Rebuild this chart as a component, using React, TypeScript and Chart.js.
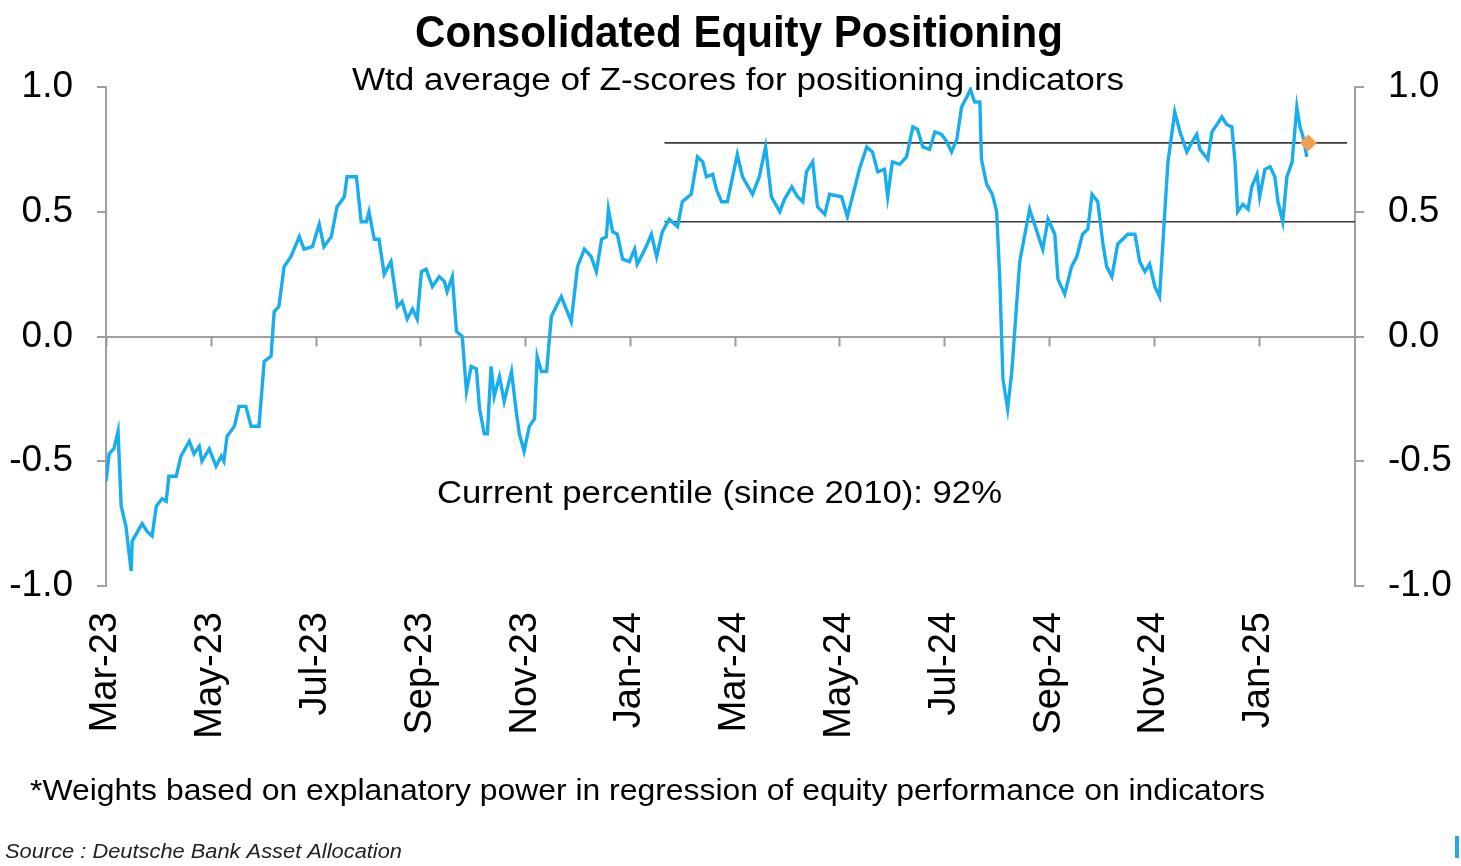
import React, { useEffect, useRef } from "react";
import { Chart, registerables } from "chart.js";

Chart.register(...registerables);

// Months since 1 Mar 2023
const monthOffsets = [
  0.0, 0.06, 0.15, 0.23, 0.29, 0.38, 0.48, 0.5, 0.69, 0.78, 0.88, 0.96, 1.07, 1.15, 1.2, 1.34, 1.43, 1.59, 1.68, 1.78,
  1.83, 1.97, 2.1, 2.2, 2.25, 2.31, 2.45, 2.54, 2.67, 2.77, 2.92, 3.02, 3.15, 3.21, 3.3, 3.4, 3.53, 3.69, 3.78, 3.94,
  4.07, 4.16, 4.3, 4.41, 4.55, 4.6, 4.78, 4.87, 4.97, 5.02, 5.12, 5.21, 5.31, 5.44, 5.56, 5.65, 5.75, 5.85, 5.94, 6.02,
  6.11, 6.23, 6.36, 6.46, 6.51, 6.61, 6.69, 6.8, 6.88, 6.97, 7.07, 7.13, 7.22, 7.28, 7.35, 7.41, 7.51, 7.6, 7.74, 7.83,
  7.89, 7.98, 8.08, 8.18, 8.23, 8.31, 8.41, 8.5, 8.69, 8.88, 9.0, 9.13, 9.26, 9.36, 9.46, 9.55, 9.59, 9.67, 9.76, 9.86,
  9.99, 10.09, 10.14, 10.24, 10.33, 10.41, 10.51, 10.62, 10.75, 10.91, 11.0, 11.17, 11.29, 11.39, 11.46, 11.58, 11.65,
  11.75, 11.86, 12.05, 12.15, 12.34, 12.47, 12.59, 12.7, 12.86, 12.95, 13.09, 13.2, 13.3, 13.37, 13.49, 13.58, 13.72,
  13.81, 14.04, 14.15, 14.38, 14.52, 14.63, 14.73, 14.86, 14.92, 15.01, 15.15, 15.28, 15.4, 15.49, 15.59, 15.72, 15.82,
  15.95, 16.05, 16.14, 16.24, 16.33, 16.43, 16.5, 16.58, 16.68, 16.71, 16.81, 16.92, 17.0, 17.06, 17.12, 17.21, 17.29,
  17.44, 17.63, 17.77, 17.88, 17.98, 18.11, 18.17, 18.3, 18.43, 18.53, 18.64, 18.74, 18.82, 18.93, 19.03, 19.1, 19.2,
  19.31, 19.5, 19.64, 19.73, 19.83, 19.92, 20.02, 20.11, 20.21, 20.27, 20.4, 20.5, 20.63, 20.73, 20.82, 20.88, 21.03,
  21.11, 21.3, 21.39, 21.49, 21.55, 21.6, 21.7, 21.8, 21.87, 21.97, 22.02, 22.12, 22.22, 22.31, 22.37, 22.46, 22.54,
  22.64, 22.73, 22.79, 22.85, 22.92,
];

const zScores = [
  -0.58, -0.47, -0.45, -0.38, -0.68, -0.76, -0.94, -0.82, -0.75, -0.78, -0.8, -0.68, -0.65, -0.66, -0.56, -0.56, -0.48,
  -0.42, -0.47, -0.44, -0.5, -0.45, -0.52, -0.48, -0.5, -0.4, -0.36, -0.28, -0.28, -0.36, -0.36, -0.1, -0.08, 0.1, 0.12,
  0.28, 0.32, 0.4, 0.35, 0.36, 0.45, 0.36, 0.4, 0.52, 0.56, 0.64, 0.64, 0.46, 0.46, 0.5, 0.39, 0.39, 0.25, 0.3, 0.12,
  0.14, 0.07, 0.11, 0.07, 0.26, 0.27, 0.2, 0.24, 0.22, 0.18, 0.24, 0.02, 0.0, -0.22, -0.12, -0.13, -0.29, -0.39, -0.39,
  -0.12, -0.24, -0.16, -0.26, -0.14, -0.3, -0.39, -0.46, -0.36, -0.33, -0.08, -0.14, -0.14, 0.08, 0.16, 0.06, 0.28, 0.35,
  0.32, 0.26, 0.39, 0.4, 0.51, 0.42, 0.41, 0.31, 0.3, 0.35, 0.29, 0.33, 0.37, 0.41, 0.32, 0.42, 0.47, 0.44, 0.54, 0.57,
  0.72, 0.7, 0.64, 0.65, 0.59, 0.54, 0.54, 0.73, 0.64, 0.57, 0.64, 0.76, 0.56, 0.5, 0.55, 0.6, 0.56, 0.54, 0.66, 0.7,
  0.52, 0.49, 0.57, 0.56, 0.48, 0.67, 0.76, 0.74, 0.66, 0.67, 0.56, 0.7, 0.69, 0.72, 0.84, 0.83, 0.76, 0.75, 0.82, 0.81,
  0.78, 0.74, 0.79, 0.92, 0.96, 0.99, 0.94, 0.94, 0.71, 0.61, 0.57, 0.5, 0.23, -0.17, -0.29, -0.14, 0.3, 0.51, 0.42, 0.35,
  0.47, 0.41, 0.23, 0.17, 0.28, 0.32, 0.41, 0.43, 0.57, 0.54, 0.37, 0.28, 0.24, 0.37, 0.41, 0.41, 0.3, 0.26, 0.29, 0.2,
  0.16, 0.5, 0.7, 0.9, 0.82, 0.74, 0.78, 0.81, 0.75, 0.71, 0.82, 0.88, 0.85, 0.84, 0.7, 0.5, 0.53, 0.51, 0.6, 0.65, 0.56,
  0.67, 0.68, 0.64, 0.54, 0.46, 0.64, 0.7, 0.92, 0.84, 0.8, 0.72,
];

const tickMonths = [0, 2, 4, 6, 8, 10, 12, 14, 16, 18, 20, 22];
const tickLabels = ["Mar-23", "May-23", "Jul-23", "Sep-23", "Nov-23", "Jan-24", "Mar-24", "May-24", "Jul-24", "Sep-24", "Nov-24", "Jan-25"];
const yTicks = [-1, -0.5, 0, 0.5, 1];

const bandStart = 10.66;
const upperBandEnd = 23.69;
const lowerBandEnd = 23.84;
const upperBand = 0.776;
const lowerBand = 0.46;
const currentX = 22.95;
const currentY = 0.776;
const xMax = 23.84;

const titleText = "Consolidated Equity Positioning";
const subtitleText = "Wtd average of Z-scores for positioning indicators";
const percentileText = "Current percentile (since 2010): 92%";
const footnoteText = "*Weights based on explanatory power in regression of equity performance on indicators";
const sourceText = "Source : Deutsche Bank Asset Allocation";

const FONT = "'Liberation Sans', Arial, sans-serif";

function fitText(ctx: CanvasRenderingContext2D, text: string, left: number, baseline: number, width: number) {
  const w = ctx.measureText(text).width;
  ctx.save();
  ctx.textAlign = "left";
  ctx.textBaseline = "alphabetic";
  ctx.translate(left, baseline);
  ctx.scale(width / w, 1);
  ctx.fillText(text, 0, 0);
  ctx.restore();
}

const textPlugin = {
  id: "textPlugin",
  beforeDatasetsDraw(chart: any) {
    const { ctx, scales } = chart;
    const x = scales.x;
    const y0 = scales.y.getPixelForValue(0);
    ctx.save();
    ctx.strokeStyle = "#9a9a9a";
    ctx.lineWidth = 2;
    tickMonths.forEach((m) => {
      const px = Math.round(x.getPixelForValue(m)) + 0.5;
      ctx.beginPath();
      ctx.moveTo(px, y0);
      ctx.lineTo(px, y0 + 10);
      ctx.stroke();
    });
    ctx.restore();
  },
  afterDraw(chart: any) {
    const { ctx } = chart;
    ctx.save();
    ctx.fillStyle = "#000";
    ctx.font = `bold 44px ${FONT}`;
    fitText(ctx, titleText, 415, 47, 648);

    ctx.font = `31px ${FONT}`;
    fitText(ctx, subtitleText, 352, 90, 772);
    fitText(ctx, percentileText, 437, 503, 565);

    ctx.font = `30px ${FONT}`;
    fitText(ctx, footnoteText, 30, 800, 1235);

    ctx.fillStyle = "#222";
    ctx.font = `italic 20px ${FONT}`;
    fitText(ctx, sourceText, 5, 858, 397);

    ctx.fillStyle = "#2aa7e8";
    ctx.fillRect(1455, 836, 4, 22);
    ctx.restore();
  },
};

export default function App() {
  const canvasRef = useRef<HTMLCanvasElement | null>(null);

  useEffect(() => {
    if (!canvasRef.current) return;
    const linePoints = monthOffsets.map((m, i) => ({ x: m, y: zScores[i] }));
    const axisGray = "#a0a0a0";
    const chart = new Chart(canvasRef.current, {
      type: "line",
      data: {
        datasets: [
          {
            label: "current",
            data: [{ x: currentX, y: currentY }],
            showLine: false,
            pointStyle: "rectRot",
            pointRadius: 8,
            pointBackgroundColor: "#F2A04E",
            pointBorderColor: "#F2A04E",
            order: 0,
          },
          {
            label: "Consolidated",
            data: linePoints,
            borderColor: "#18AEEE",
            borderWidth: 3.4,
            pointRadius: 0,
            tension: 0,
            order: 1,
          },
          {
            label: "upper",
            data: [
              { x: bandStart, y: upperBand },
              { x: upperBandEnd, y: upperBand },
            ],
            borderColor: "#3a3a3a",
            borderWidth: 1.6,
            pointRadius: 0,
            order: 2,
          },
          {
            label: "lower",
            data: [
              { x: bandStart, y: lowerBand },
              { x: lowerBandEnd, y: lowerBand },
            ],
            borderColor: "#3a3a3a",
            borderWidth: 1.6,
            pointRadius: 0,
            order: 2,
          },
        ],
      },
      options: {
        animation: false,
        responsive: true,
        maintainAspectRatio: false,
        layout: { padding: { top: 87, left: 0, right: 0, bottom: 0 } },
        plugins: {
          legend: { display: false },
          title: { display: false },
          tooltip: { enabled: false },
        },
        scales: {
          x: {
            type: "linear",
            min: 0,
            max: xMax,
            grid: { display: false, drawTicks: false },
            border: { display: false },
            afterBuildTicks: (scale: any) => {
              scale.ticks = tickMonths.map((v) => ({ value: v }));
            },
            afterFit: (scale: any) => {
              scale.height = 280;
            },
            ticks: {
              autoSkip: false,
              minRotation: 90,
              maxRotation: 90,
              padding: 26,
              color: "#000",
              font: { family: FONT, size: 38 },
              callback: (value: any) => {
                const idx = tickMonths.indexOf(Number(value));
                return idx >= 0 ? tickLabels[idx] : "";
              },
            },
          },
          y: {
            position: "left",
            min: -1,
            max: 1,
            afterBuildTicks: (scale: any) => {
              scale.ticks = yTicks.map((v) => ({ value: v }));
            },
            afterFit: (scale: any) => {
              scale.width = 106;
            },
            grid: {
              color: (c: any) => (c.tick && c.tick.value === 0 ? axisGray : "rgba(0,0,0,0)"),
              lineWidth: 2,
              tickColor: axisGray,
              tickLength: 9,
            },
            border: { display: true, color: axisGray, width: 2 },
            ticks: {
              padding: 24,
              color: "#000",
              font: { family: FONT, size: 37 },
              callback: (v: any) => Number(v).toFixed(1),
            },
          },
          y2: {
            position: "right",
            min: -1,
            max: 1,
            afterBuildTicks: (scale: any) => {
              scale.ticks = yTicks.map((v) => ({ value: v }));
            },
            afterFit: (scale: any) => {
              scale.width = 106;
            },
            grid: {
              drawOnChartArea: false,
              tickColor: axisGray,
              lineWidth: 2,
              tickLength: 9,
            },
            border: { display: true, color: axisGray, width: 2 },
            ticks: {
              padding: 24,
              color: "#000",
              font: { family: FONT, size: 37 },
              callback: (v: any) => Number(v).toFixed(1),
            },
          },
        },
      },
      plugins: [textPlugin],
    });
    return () => chart.destroy();
  }, []);

  return (
    <div style={{ position: "fixed", left: 0, top: 0, width: 1461, height: 866, background: "#fff" }}>
      <canvas ref={canvasRef} />
    </div>
  );
}
